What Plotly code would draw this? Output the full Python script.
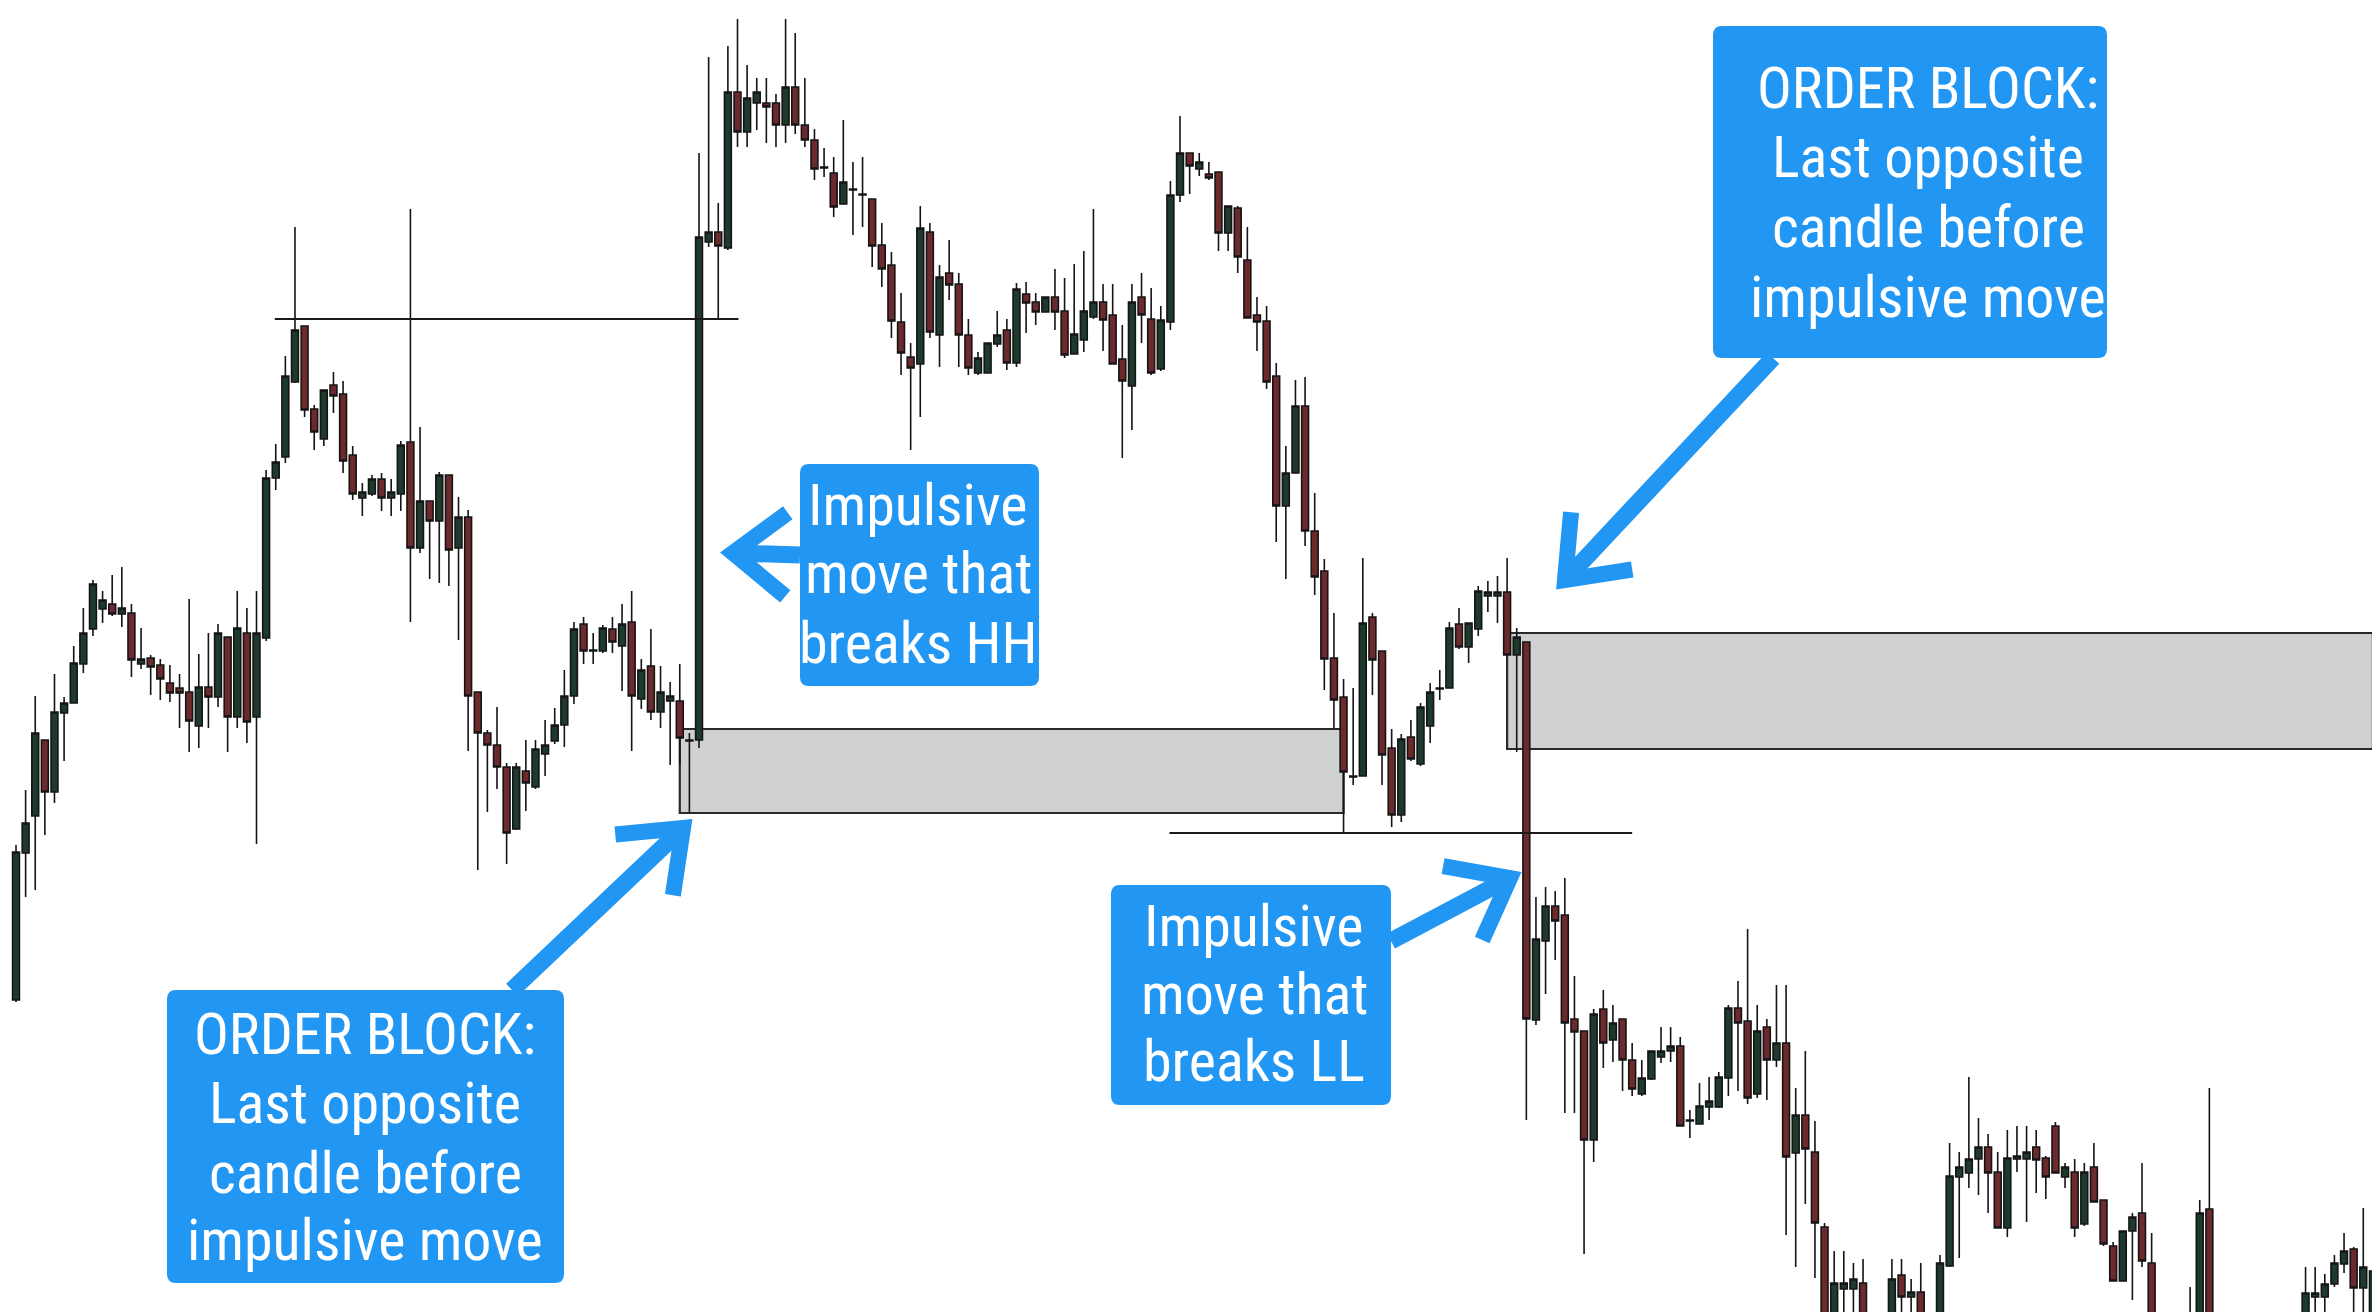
import math
import plotly.graph_objects as go

W, H = 2380, 1312
PAGE_MARGIN = 8  # default <body> margin of the written page

# ---------------------------------------------------------------------------
# Candle data (price points), one entry per bar
# ---------------------------------------------------------------------------
opens = [
    312, 459, 496, 572, 520, 599, 609, 648, 683, 703, 708, 698, 699, 648, 654, 647, 629, 624, 620, 586,
    625, 615, 675, 595, 679, 595, 674, 834, 855, 930, 986, 903, 873, 927, 918, 857, 814, 818, 833, 814,
    818, 870, 764, 811, 791, 837, 764, 795, 620, 579, 567, 545, 483, 541, 525, 558, 571, 587, 616, 688,
    661, 661, 683, 666, 690, 613, 646, 600, 611, 611, 571, 572, 1070, 1080, 1064, 1220, 1180, 1209, 1209, 1209,
    1187, 1225, 1187, 1172, 1144, 1139, 1108, 1122, 1118, 1113, 1067, 1047, 990, 955, 948, 1080, 977, 1039, 1028, 977,
    939, 939, 968, 982, 949, 1018, 1010, 1000, 1015, 1001, 958, 972, 995, 1010, 997, 953, 926, 1015, 993, 943,
    990, 1117, 1159, 1143, 1138, 1140, 1079, 1104, 1052, 997, 991, 936, 806, 839, 906, 781, 741, 654, 615, 535,
    536, 695, 661, 564, 497, 575, 548, 586, 623, 624, 688, 665, 683, 716, 716, 720, 657, 670, 292, 371,
    406, 397, 293, 281, 172, 303, 272, 293, 252, 218, 233, 255, 261, 266, 192, 188, 205, 205, 234, 304,
    291, 218, 285, 252, 269, 159, 197, 160, 85, -8, 23, 23, 29, -10, -35, -8, 37, 15, 20, -10,
    -8, 46, 135, 139, 153, 165, 140, 84, 153, 153, 165, 154, 186, 135, 140, 88, 145, 112, 66, 31,
    81, 99, 49, -10, -40, -60, -18, -18, 103, -18, -50, -70, -55, -40, -50, -30, -40, -20, -8, 15,
    15, 28, 48, 63, 24, -8,
]
highs = [
    467, 522, 616, 572, 638, 615, 666, 704, 732, 721, 737, 745, 708, 684, 657, 653, 647, 638, 713, 658,
    679, 688, 675, 721, 704, 721, 842, 868, 956, 1085, 986, 907, 922, 940, 931, 866, 829, 837, 839, 833,
    871, 1103, 885, 811, 840, 837, 815, 802, 620, 582, 605, 549, 549, 572, 572, 592, 604, 642, 690, 695,
    679, 687, 695, 708, 721, 653, 683, 646, 630, 648, 579, 1159, 1255, 1109, 1266, 1293, 1247, 1234, 1234, 1218,
    1293, 1279, 1234, 1183, 1164, 1155, 1192, 1150, 1155, 1113, 1089, 1060, 1019, 969, 1106, 1089, 1047, 1072, 1039, 993,
    960, 969, 1001, 993, 1029, 1030, 1019, 1015, 1043, 1034, 1048, 1061, 1103, 1028, 1028, 987, 1028, 1039, 1024, 1006,
    1131, 1196, 1159, 1159, 1150, 1140, 1106, 1106, 1085, 1015, 1006, 949, 866, 932, 935, 819, 753, 699, 633, 624,
    754, 699, 661, 583, 578, 592, 609, 629, 642, 690, 704, 689, 726, 731, 736, 754, 684, 670, 415, 425,
    421, 434, 336, 281, 303, 322, 307, 293, 269, 252, 261, 285, 285, 275, 202, 229, 235, 240, 307, 331,
    383, 307, 293, 327, 327, 224, 261, 191, 89, 61, 61, 49, 53, -4, -20, 53, 53, 33, 49, -3,
    57, 169, 160, 235, 194, 178, 160, 182, 186, 186, 182, 156, 190, 149, 153, 149, 169, 112, 70, 81,
    99, 149, 79, -2, -30, -20, 25, 112, 224, -5, -40, -50, -30, -20, -25, -12, -15, -6, 45, 45,
    38, 57, 79, 65, 104, 47,
]
lows = [
    310, 415, 422, 477, 509, 551, 609, 639, 676, 689, 696, 685, 635, 643, 617, 612, 610, 584, 560, 564,
    584, 605, 560, 584, 569, 468, 671, 822, 849, 929, 895, 862, 866, 899, 839, 812, 796, 816, 801, 796,
    801, 690, 759, 733, 729, 726, 672, 561, 442, 500, 523, 448, 482, 501, 523, 536, 568, 565, 608, 648,
    648, 659, 659, 621, 561, 603, 592, 584, 547, 547, 499, 564, 1065, 992, 1062, 1165, 1165, 1182, 1169, 1165,
    1169, 1178, 1165, 1132, 1135, 1095, 1108, 1077, 1085, 1045, 1025, 974, 937, 862, 895, 974, 945, 1012, 945, 937,
    937, 939, 965, 942, 945, 979, 987, 1000, 982, 954, 958, 960, 993, 961, 948, 854, 882, 969, 937, 941,
    982, 1110, 1118, 1136, 1132, 1061, 1061, 1039, 994, 961, 923, 770, 733, 839, 766, 717, 622, 583, 480, 527,
    536, 617, 527, 485, 490, 551, 546, 569, 612, 624, 663, 649, 676, 700, 689, 657, 560, 192, 287, 318,
    352, 199, 199, 58, 150, 244, 250, 221, 216, 216, 232, 249, 250, 186, 174, 188, 192, 204, 216, 221,
    208, 214, 212, 245, 77, 45, 108, 34, -18, -18, -8, -8, -18, -45, -50, -18, -8, -5, -18, -40,
    -18, 45, 54, 124, 117, 99, 84, 75, 140, 90, 119, 113, 139, 124, 75, 86, 110, 66, 31, 31,
    12, 45, -18, -50, -70, -65, -28, -28, -28, -60, -80, -85, -70, -60, -55, -45, -48, -35, -18, -8,
    -8, 25, 39, -8, -8, -18,
]
closes = [
    460, 489, 579, 520, 600, 609, 649, 679, 728, 712, 698, 704, 652, 653, 645, 633, 619, 619, 591, 625,
    615, 679, 595, 684, 590, 679, 834, 850, 936, 982, 902, 880, 922, 916, 851, 818, 820, 833, 814, 820,
    867, 764, 811, 791, 837, 762, 795, 616, 579, 567, 545, 479, 545, 529, 563, 567, 587, 616, 683, 661,
    662, 684, 670, 688, 616, 642, 600, 620, 616, 574, 572, 1075, 1080, 1066, 1220, 1180, 1214, 1220, 1205, 1187,
    1225, 1187, 1172, 1143, 1145, 1105, 1130, 1123, 1117, 1066, 1043, 991, 959, 944, 1084, 980, 1035, 1027, 977, 944,
    954, 969, 977, 949, 1023, 1009, 1000, 1015, 1000, 957, 978, 1001, 1010, 992, 948, 931, 1010, 997, 939, 992,
    1117, 1159, 1146, 1150, 1134, 1079, 1106, 1055, 994, 990, 930, 806, 839, 906, 781, 735, 653, 612, 540, 536,
    689, 652, 557, 497, 573, 553, 605, 620, 624, 684, 665, 689, 721, 720, 720, 657, 675, 293, 373, 406,
    391, 289, 280, 172, 298, 269, 289, 252, 223, 234, 261, 261, 266, 186, 191, 206, 211, 235, 304, 289,
    214, 281, 252, 269, 155, 197, 163, 89, -6, 29, 29, 33, -8, -35, -25, 33, 15, 20, -6, -30,
    49, 136, 145, 153, 165, 139, 84, 154, 156, 160, 152, 135, 139, 145, 84, 140, 110, 68, 31, 81,
    95, 51, -8, -40, -60, -25, -4, 99, -18, -50, -70, -55, -40, -50, -30, -40, -20, -15, 19, 19,
    28, 49, 61, 24, 45, 41,
]
bars = list(range(len(opens)))

# Levels and zones (bar index, price)
hh_level, hh_span = 993, (26.9, 75.1)
ll_level, ll_span = 479, (119.9, 168.0)
zones = [(69, 138, 499, 583), (155, 245, 563, 679)]

# Callouts (drawn in page pixels)
callout_boxes = [(167, 990, 564, 1283), (800, 464, 1039, 686), (1713, 26, 2107, 358), (1111, 885, 1391, 1105)]
callout_centres = [365, 918, 1928, 1254]
ob_text = ["ORDER BLOCK:", "Last opposite", "candle before", "impulsive move"]
callout_lines = [ob_text, ["Impulsive", "move that", "breaks HH"], ob_text, ["Impulsive", "move that", "breaks LL"]]
callout_baselines = [[1054, 1123, 1193, 1260], [525, 593, 663], [108, 177, 247, 317], [946, 1014, 1081]]
# arrows: (tail, tip)
arrows = [((512, 990), (683, 828)), ((800, 555), (733, 553)), ((1773, 358), (1565, 580)), ((1391, 941), (1510, 878))]

BULL_FILL = "#1e3a2f"
BEAR_FILL = "#6d2a2d"
WICK = "#141414"
BLUE = "#2196f3"
ZONE_FILL = "#cfd0d2"
FONT = "Liberation Sans Narrow, Arial Narrow, Roboto Condensed, DejaVu Sans Condensed, Liberation Sans, sans-serif"
FS = 58

# first candle centre sits 16px from the left edge, pitch 9.62px
X0, DX = 16.0, 9.62
M = PAGE_MARGIN

fig = go.Figure()
fig.add_trace(go.Candlestick(
    x=bars, open=opens, high=highs, low=lows, close=closes,
    increasing=dict(fillcolor=BULL_FILL, line=dict(color=WICK, width=1.6)),
    decreasing=dict(fillcolor=BEAR_FILL, line=dict(color=WICK, width=1.6)),
    showlegend=False,
))
# empty trace to hold the pixel overlay axes
fig.add_trace(go.Scatter(x=[], y=[], xaxis="x2", yaxis="y2", showlegend=False))

shapes = []
for x0, x1, y0, y1 in zones:
    shapes.append(dict(type="rect", xref="x", yref="y", x0=x0, x1=x1, y0=y0, y1=y1,
                       fillcolor=ZONE_FILL, line=dict(color="#2a2a2a", width=2.2), layer="below"))
shapes.append(dict(type="line", xref="x", yref="y", x0=hh_span[0], x1=hh_span[1], y0=hh_level, y1=hh_level,
                   line=dict(color="#1a1a1a", width=2)))
shapes.append(dict(type="line", xref="x", yref="y", x0=ll_span[0], x1=ll_span[1], y0=ll_level, y1=ll_level,
                   line=dict(color="#1a1a1a", width=2)))


def rounded(x0, y0, x1, y1, r=9):
    return (f"M{x0+r},{y0} L{x1-r},{y0} Q{x1},{y0} {x1},{y0+r} L{x1},{y1-r} Q{x1},{y1} {x1-r},{y1} "
            f"L{x0+r},{y1} Q{x0},{y1} {x0},{y1-r} L{x0},{y0+r} Q{x0},{y0} {x0+r},{y0} Z")


for (tx, ty), (px, py) in arrows:
    ang = math.atan2(ty - py, tx - px)
    arms = []
    for s in (-1, 1):
        a = ang + s * math.radians(38)
        arms.append((px + 68 * math.cos(a), py + 68 * math.sin(a)))
    shapes.append(dict(type="line", xref="x2", yref="y2", x0=tx, y0=ty, x1=px, y1=py,
                       line=dict(color=BLUE, width=17)))
    shapes.append(dict(type="path", xref="x2", yref="y2",
                       path=f"M{arms[0][0]:.1f},{arms[0][1]:.1f} L{px},{py} L{arms[1][0]:.1f},{arms[1][1]:.1f}",
                       line=dict(color=BLUE, width=16)))

for box in callout_boxes:
    shapes.append(dict(type="path", xref="x2", yref="y2", path=rounded(*box),
                       fillcolor=BLUE, line=dict(width=0)))

annotations = []
for cx, lines, bases in zip(callout_centres, callout_lines, callout_baselines):
    for txt, b in zip(lines, bases):
        annotations.append(dict(xref="x2", yref="y2", x=cx, y=b - 20, text=txt, showarrow=False,
                                xanchor="center", yanchor="middle",
                                font=dict(family=FONT, size=FS, color="white")))

# the page adds an 8px margin, so the figure is 8px smaller and its axes start 8px in
fig.update_layout(
    width=W - M, height=H - M, autosize=False,
    margin=dict(l=0, r=0, t=0, b=0),
    paper_bgcolor="white", plot_bgcolor="white",
    showlegend=False,
    boxgap=0.05, boxgroupgap=0.25,
    xaxis=dict(range=[(M - X0) / DX, (W - X0) / DX], visible=False,
               rangeslider=dict(visible=False), fixedrange=True),
    yaxis=dict(range=[0, H - M], visible=False, fixedrange=True),
    xaxis2=dict(range=[M, W], overlaying="x", anchor="y2", visible=False, fixedrange=True),
    yaxis2=dict(range=[H, M], overlaying="y", anchor="x2", visible=False, fixedrange=True),
    shapes=shapes,
    annotations=annotations,
)

fig.write_html("out.html")
